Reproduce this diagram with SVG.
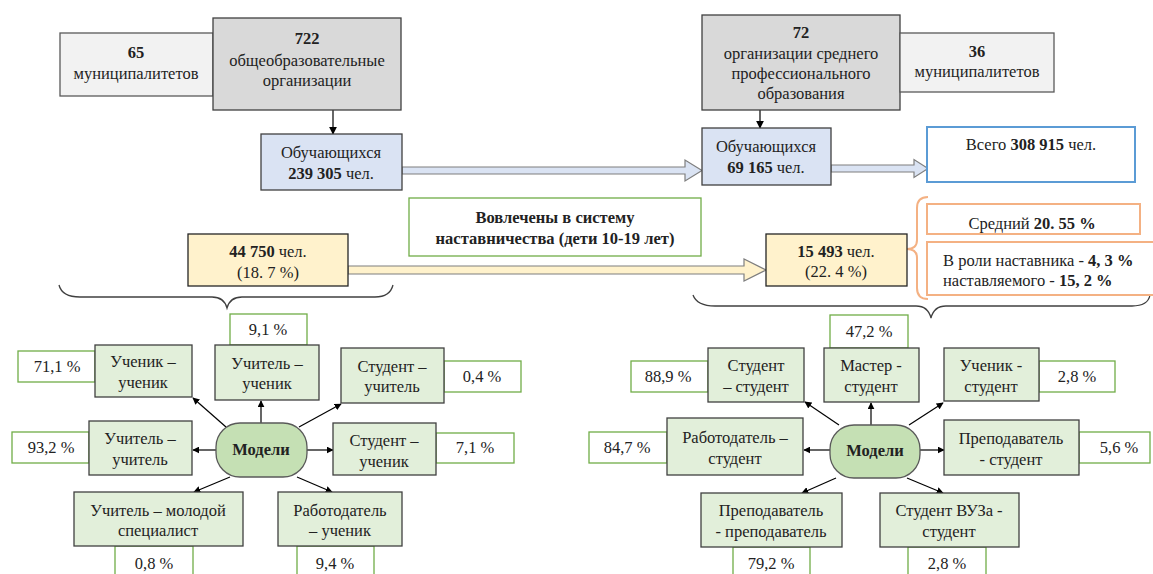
<svg xmlns="http://www.w3.org/2000/svg" width="1153" height="574" viewBox="0 0 1153 574" font-family="'Liberation Serif', 'Times New Roman', 'DejaVu Serif', serif">
<defs>
<marker id="ah" viewBox="0 0 10 10" refX="9" refY="5" markerWidth="7" markerHeight="7" markerUnits="userSpaceOnUse" orient="auto"><path d="M0,0 L10,5 L0,10 z" fill="#000"/></marker>
<marker id="ah2" viewBox="0 0 10 10" refX="9" refY="5" markerWidth="8" markerHeight="8" markerUnits="userSpaceOnUse" orient="auto"><path d="M0,0 L10,5 L0,10 z" fill="#000"/></marker>
</defs>
<style>
text{font-family:'Liberation Serif','Times New Roman','DejaVu Serif',serif;font-size:16.5px;fill:#222;text-anchor:middle}
.b{font-weight:bold}
.lg{fill:#f2f2f2;stroke:#595959;stroke-width:1.3}
.dg{fill:#d9d9d9;stroke:#404040;stroke-width:1.3}
.bl{fill:#dae3f3;stroke:#404040;stroke-width:1.3}
.yl{fill:#fff2cc;stroke:#262626;stroke-width:1.3}
.gn{fill:#e2efda;stroke:#404040;stroke-width:1.3}
.pc{fill:#fff;stroke:#70ad47;stroke-width:1.3}
.or{fill:#fff;stroke:#f4b183;stroke-width:2}
.md{fill:#c5e0b4;stroke:#595959;stroke-width:1.3}
.ln{stroke:#000;stroke-width:1.2;fill:none}
.br{stroke:#404040;stroke-width:1.3;fill:none}
</style>
<rect width="1153" height="574" fill="#fff"/>

<g id="connectors">
<line class="ln" x1="333" y1="110" x2="333" y2="134" marker-end="url(#ah2)"/>
<line class="ln" x1="760" y1="110" x2="760" y2="128" marker-end="url(#ah2)"/>
<polygon points="402,167 685,167 685,160 702,170.5 685,181 685,174 402,174" fill="#dae3f3" stroke="#7f7f7f" stroke-width="1.2"/>
<polygon points="831,165 914,165 914,159.5 928,168.5 914,177.5 914,172 831,172" fill="#dae3f3" stroke="#7f7f7f" stroke-width="1.2"/>
<polygon points="348,266 744,266 744,259 766,270 744,281 744,274 348,274" fill="#fff2cc" stroke="#7f7f7f" stroke-width="1.2"/>
<path class="br" d="M59,285 Q62,297 80,297 L212,297 Q224,297 227,308 Q230,297 242,297 L375,297 Q390,297 393,285"/>
<path class="br" d="M693,295 Q697,306 715,306 L916,306 Q928,306 931,318 Q934,306 946,306 L1132,306 Q1148,306 1150,295"/>
<path d="M928,197 Q917,197 917,208 L917,240 Q917,249 907,249 Q917,249 917,258 L917,288 Q917,299 928,299" fill="none" stroke="#f4b183" stroke-width="2"/>
<line class="ln" x1="226" y1="427" x2="193" y2="398" marker-end="url(#ah)"/>
<line class="ln" x1="261" y1="423" x2="261" y2="401" marker-end="url(#ah)"/>
<line class="ln" x1="299" y1="427" x2="341" y2="404" marker-end="url(#ah)"/>
<line class="ln" x1="216" y1="450" x2="193" y2="450" marker-end="url(#ah)"/>
<line class="ln" x1="307" y1="450" x2="333" y2="450" marker-end="url(#ah)"/>
<line class="ln" x1="230" y1="477" x2="194" y2="492" marker-end="url(#ah)"/>
<line class="ln" x1="297" y1="477" x2="332" y2="492" marker-end="url(#ah)"/>
<line class="ln" x1="839" y1="425" x2="805" y2="402" marker-end="url(#ah)"/>
<line class="ln" x1="871" y1="425" x2="871" y2="403" marker-end="url(#ah)"/>
<line class="ln" x1="909" y1="425" x2="943" y2="403" marker-end="url(#ah)"/>
<line class="ln" x1="830" y1="450" x2="804" y2="450" marker-end="url(#ah)"/>
<line class="ln" x1="920" y1="450" x2="944" y2="450" marker-end="url(#ah)"/>
<line class="ln" x1="836" y1="478" x2="802" y2="493" marker-end="url(#ah)"/>
<line class="ln" x1="907" y1="478" x2="943" y2="493" marker-end="url(#ah)"/>
</g>

<g id="mun65"><rect class="lg" x="60" y="33" width="153" height="63"/><text x="136" y="58" class="b">65</text><text x="136" y="79">муниципалитетов</text></g>
<g id="org722"><rect class="dg" x="213" y="18" width="188" height="92"/><text x="307" y="44" class="b">722</text><text x="307" y="66">общеобразовательные</text><text x="307" y="86">организации</text></g>
<g id="stud1"><rect class="bl" x="261" y="134" width="141" height="56"/><text x="331" y="158">Обучающихся</text><text x="331" y="179"><tspan class="b">239 305</tspan> чел.</text></g>
<g id="org72"><rect class="dg" x="702" y="15" width="198" height="95"/><text x="801" y="38" class="b">72</text><text x="801" y="59">организации среднего</text><text x="801" y="79">профессионального</text><text x="801" y="99">образования</text></g>
<g id="mun36"><rect class="lg" x="900" y="33" width="154" height="59"/><text x="977" y="57" class="b">36</text><text x="977" y="77">муниципалитетов</text></g>
<g id="stud2"><rect class="bl" x="702" y="128" width="129" height="57"/><text x="766" y="152">Обучающихся</text><text x="766" y="173"><tspan class="b">69 165</tspan> чел.</text></g>
<g id="total"><rect x="927" y="127" width="208" height="55" fill="#fff" stroke="#5b9bd5" stroke-width="2"/><text x="1031" y="150">Всего <tspan class="b">308 915</tspan> чел.</text></g>
<g id="involved"><rect x="409" y="198" width="292" height="58" fill="#fff" stroke="#70ad47" stroke-width="1.3"/><text x="555" y="223" class="b">Вовлечены в систему</text><text x="555" y="244" class="b">наставничества (дети 10-19 лет)</text></g>
<g id="y1"><rect class="yl" x="188" y="234" width="160" height="52"/><text x="268" y="257"><tspan class="b">44 750</tspan> чел.</text><text x="268" y="278">(18. 7 %)</text></g>
<g id="y2"><rect class="yl" x="766" y="234" width="141" height="52"/><text x="836" y="257"><tspan class="b">15 493</tspan> чел.</text><text x="836" y="277">(22. 4 %)</text></g>
<g id="avg"><rect class="or" x="927" y="204" width="213" height="30"/><text x="1032" y="229">Средний <tspan class="b">20. 55 %</tspan></text></g>
<g id="roles"><rect class="or" x="927" y="242" width="230" height="53"/><text x="943" y="266" style="text-anchor:start">В роли наставника - <tspan class="b">4, 3 %</tspan></text><text x="943" y="286" style="text-anchor:start">наставляемого - <tspan class="b">15, 2 %</tspan></text></g>

<g id="L-p91"><rect class="pc" x="230" y="314" width="77" height="31"/><text x="268" y="335">9,1 %</text></g>
<g id="L-p711"><rect class="pc" x="18" y="351" width="77" height="31"/><text x="57" y="372">71,1 %</text></g>
<g id="L-p04"><rect class="pc" x="444" y="361" width="77" height="31"/><text x="482" y="382">0,4 %</text></g>
<g id="L-p932"><rect class="pc" x="12" y="432" width="77" height="31"/><text x="51" y="453">93,2 %</text></g>
<g id="L-p71"><rect class="pc" x="436" y="433" width="78" height="30"/><text x="475" y="453">7,1 %</text></g>
<g id="L-p08"><rect class="pc" x="115" y="546" width="78" height="40"/><text x="154" y="569">0,8 %</text></g>
<g id="L-p94"><rect class="pc" x="297" y="546" width="77" height="40"/><text x="335" y="569">9,4 %</text></g>
<g id="L-tu"><rect class="gn" x="215" y="345" width="104" height="55"/><text x="267" y="369">Учитель –</text><text x="267" y="389">ученик</text></g>
<g id="L-uu"><rect class="gn" x="95" y="345" width="97" height="52"/><text x="143" y="367">Ученик –</text><text x="143" y="388">ученик</text></g>
<g id="L-su"><rect class="gn" x="341" y="348" width="103" height="55"/><text x="392" y="372">Студент –</text><text x="392" y="392">учитель</text></g>
<g id="L-tt"><rect class="gn" x="89" y="421" width="103" height="54"/><text x="140" y="444">Учитель –</text><text x="140" y="465">учитель</text></g>
<g id="L-sch"><rect class="gn" x="333" y="423" width="103" height="52"/><text x="384" y="446">Студент –</text><text x="384" y="467">ученик</text></g>
<g id="L-tm"><rect class="gn" x="74" y="492" width="169" height="54"/><text x="158" y="516">Учитель – молодой</text><text x="158" y="536">специалист</text></g>
<g id="L-ru"><rect class="gn" x="278" y="492" width="124" height="54"/><text x="340" y="516">Работодатель</text><text x="340" y="536">– ученик</text></g>
<g id="L-models"><rect class="md" x="216" y="423" width="91" height="54" rx="24"/><text x="261" y="455" class="b">Модели</text></g>

<g id="R-p472"><rect class="pc" x="830" y="315" width="78" height="33"/><text x="869" y="337">47,2 %</text></g>
<g id="R-p889"><rect class="pc" x="631" y="361" width="77" height="31"/><text x="668" y="382">88,9 %</text></g>
<g id="R-p28a"><rect class="pc" x="1039" y="361" width="76" height="31"/><text x="1077" y="382">2,8 %</text></g>
<g id="R-p847"><rect class="pc" x="589" y="432" width="78" height="31"/><text x="627" y="453">84,7 %</text></g>
<g id="R-p56"><rect class="pc" x="1079" y="432" width="71" height="31"/><text x="1119" y="453">5,6 %</text></g>
<g id="R-p792"><rect class="pc" x="733" y="547" width="77" height="40"/><text x="771" y="569">79,2 %</text></g>
<g id="R-p28b"><rect class="pc" x="908" y="547" width="78" height="40"/><text x="947" y="569">2,8 %</text></g>
<g id="R-ss"><rect class="gn" x="708" y="348" width="96" height="54"/><text x="756" y="371">Студент</text><text x="756" y="392">– студент</text></g>
<g id="R-ms"><rect class="gn" x="824" y="348" width="95" height="54"/><text x="871" y="371">Мастер -</text><text x="871" y="392">студент</text></g>
<g id="R-us"><rect class="gn" x="944" y="348" width="95" height="53"/><text x="991" y="371">Ученик -</text><text x="991" y="392">студент</text></g>
<g id="R-rs"><rect class="gn" x="667" y="418" width="136" height="57"/><text x="735" y="443">Работодатель –</text><text x="735" y="464">студент</text></g>
<g id="R-ps"><rect class="gn" x="944" y="420" width="135" height="55"/><text x="1011" y="444">Преподаватель</text><text x="1011" y="465">- студент</text></g>
<g id="R-pp"><rect class="gn" x="701" y="493" width="141" height="54"/><text x="771" y="516">Преподаватель</text><text x="771" y="537">- преподаватель</text></g>
<g id="R-vs"><rect class="gn" x="880" y="493" width="139" height="54"/><text x="949" y="516">Студент ВУЗа -</text><text x="949" y="537">студент</text></g>
<g id="R-models"><rect class="md" x="830" y="425" width="90" height="53" rx="24"/><text x="875" y="456" class="b">Модели</text></g>
</svg>
